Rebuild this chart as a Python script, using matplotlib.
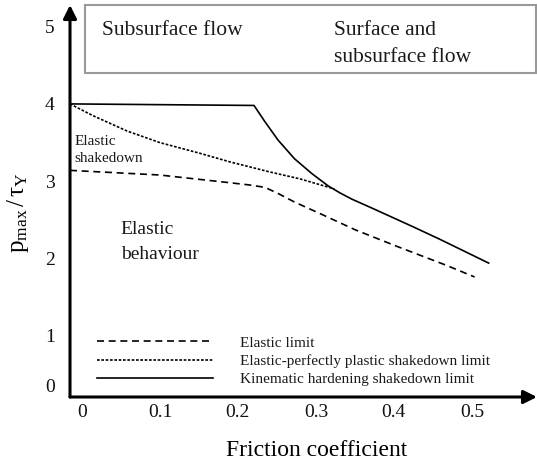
import matplotlib
matplotlib.use("Agg")
import matplotlib.pyplot as plt
import matplotlib.transforms as mtransforms
from matplotlib.patches import Rectangle

plt.rcParams['font.family'] = ['Liberation Serif', 'DejaVu Serif']
plt.rcParams['mathtext.fontset'] = 'custom'
plt.rcParams['mathtext.rm'] = 'Liberation Serif'
plt.rcParams['mathtext.it'] = 'Liberation Serif:italic'

# Shakedown limits vs. friction coefficient
mu_elastic = [0.0, 0.115, 0.205, 0.231, 0.25, 0.267, 0.288, 0.323, 0.366,
              0.421, 0.483, 0.519]
p_elastic = [3.14, 3.08, 2.98, 2.95, 2.92, 2.84, 2.73, 2.57, 2.37,
             2.15, 1.91, 1.76]

mu_plastic = [0.0, 0.029, 0.073, 0.115, 0.167, 0.205, 0.256, 0.295, 0.339]
p_plastic = [4.0, 3.85, 3.65, 3.50, 3.36, 3.25, 3.12, 3.03, 2.90]

mu_kinematic = [0.0, 0.236, 0.250, 0.267, 0.288, 0.310, 0.331, 0.346,
                0.361, 0.391, 0.440, 0.474, 0.537]
p_kinematic = [4.0, 3.98, 3.77, 3.53, 3.29, 3.10, 2.94, 2.85,
               2.77, 2.635, 2.41, 2.25, 1.94]

x_ticks = [0, 0.1, 0.2, 0.3, 0.4, 0.5]
x_tick_labels = ['0', '0.1', '0.2', '0.3', '0.4', '0.5']
y_ticks = [0.36, 1, 2, 3, 4, 5]
y_tick_labels = ['0', '1', '2', '3', '4', '5']

legend_labels = ['Elastic limit',
                 'Elastic-perfectly plastic shakedown limit',
                 'Kinematic hardening shakedown limit']

W, H = 537, 461
fig = plt.figure(figsize=(W / 100, H / 100), dpi=100)
ax = fig.add_axes([70 / W, (H - 397) / H, 467 / W, 392 / H])
ax.set_xlim(0, 0.599)
ax.set_ylim(0.207, 5.28)
for sp in ax.spines.values():
    sp.set_visible(False)

lw = 1.2
ax.plot(mu_elastic, p_elastic, color='black', lw=lw, dashes=(4.2, 2.8),
        label=legend_labels[0])
ax.plot(mu_plastic, p_plastic, color='black', lw=lw, dashes=(1.6, 1.0),
        label=legend_labels[1])
ax.plot(mu_kinematic, p_kinematic, color='black', lw=lw,
        label=legend_labels[2])

# axes drawn as arrows
arrow = dict(arrowstyle='-|>', lw=2.2, color='black', mutation_scale=20,
             shrinkA=0, shrinkB=0)
ax.annotate('', xy=(1, 0), xytext=(0, 0), xycoords='axes fraction',
            textcoords='axes fraction', arrowprops=arrow, annotation_clip=False)
ax.annotate('', xy=(0, 1), xytext=(0, 0), xycoords='axes fraction',
            textcoords='axes fraction', arrowprops=arrow, annotation_clip=False)

ax.set_xticks(x_ticks, x_tick_labels)
ax.set_yticks(y_ticks, y_tick_labels)
ax.tick_params(length=0, labelsize=14, colors='#111111')
ax.tick_params(axis='x', pad=5)
ax.tick_params(axis='y', pad=11)
shift = mtransforms.ScaledTranslation(12 / 100, 0, fig.dpi_scale_trans)
for lab in ax.get_xticklabels():
    lab.set_transform(lab.get_transform() + shift)

fig.text(317 / W, 1 - 456 / H, 'Friction coefficient', fontsize=17,
         ha='center', va='baseline')
fig.text(18 / W, 1 - 213 / H, r'$\mathrm{p_{max}\,/\,\tau_{Y}}$', fontsize=18,
         rotation=90, ha='center', va='center')

# regime box at the top
fig.add_artist(Rectangle((85 / W, 1 - 73 / H), (536 - 85) / W, 68 / H,
                         transform=fig.transFigure, fill=False,
                         edgecolor='#999999', lw=1.5))

tc = '#1a1a1a'
ax.text(0.041, 4.89, 'Subsurface flow', fontsize=15.5, color=tc, va='baseline')
ax.text(0.338, 4.89, 'Surface and', fontsize=15.5, color=tc, va='baseline')
ax.text(0.338, 4.54, 'subsurface flow', fontsize=15.5, color=tc, va='baseline')
ax.text(0.006, 3.47, 'Elastic', fontsize=11, color=tc, va='baseline')
ax.text(0.006, 3.25, 'shakedown', fontsize=11, color=tc, va='baseline')
ax.text(0.065, 2.32, 'Elastic', fontsize=14, color=tc, va='baseline')
ax.text(0.065, 1.99, 'behaviour', fontsize=14, color=tc, va='baseline')

ax.legend(loc='center left', bbox_to_anchor=(0.035, 0.673),
          bbox_transform=ax.transData, frameon=False, fontsize=11,
          handlelength=7.55, handletextpad=1.8, labelspacing=0.28,
          borderpad=0, borderaxespad=0, labelcolor=tc)

fig.savefig('out.png', dpi=100)
